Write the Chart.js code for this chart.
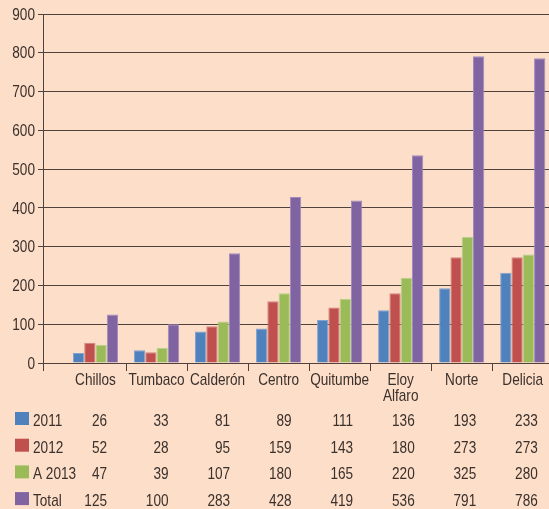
<!DOCTYPE html>
<html>
<head>
<meta charset="utf-8">
<script src="https://cdn.jsdelivr.net/npm/chart.js@4.4.1/dist/chart.umd.min.js"></script>
<style>
  html, body { margin: 0; padding: 0; background: #fddec8; overflow: hidden; }
  #wrap { width: 549px; height: 509px; }
</style>
</head>
<body>
<div id="wrap"><canvas id="chart" width="549" height="509"></canvas></div>
<script>
// datos
const categories = ['Chillos', 'Tumbaco', 'Calderón', 'Centro', 'Quitumbe', ['Eloy', 'Alfaro'], 'Norte', 'Delicia'];
const seriesNames = ['2011', '2012', 'A 2013', 'Total'];
const v2011 = [26, 33, 81, 89, 111, 136, 193, 233];
const v2012 = [52, 28, 95, 159, 143, 180, 273, 273];
const vA2013 = [47, 39, 107, 180, 165, 220, 325, 280];
const vTotal = [125, 100, 283, 428, 419, 536, 791, 786];
const yTicks = [0, 100, 200, 300, 400, 500, 600, 700, 800, 900];

const colors = ['#4f81bd', '#c0504d', '#9bbb59', '#8064a2'];
const borders = ['#7fa3d2', '#d58482', '#b7d08a', '#9f8bbf'];
const allValues = [v2011, v2012, vA2013, vTotal];

// letra tipo "Helvetica condensed": Liberation Sans comprimida en horizontal
const FONT = '17px "Liberation Sans", Arial, sans-serif';
const SX = 0.8;
const textColor = '#3a302c';
const lineColor = '#4f423c';

// el eje x empieza un poco antes de la primera categoria (hueco a la izquierda)
const xMin = -0.86, xMax = 7.43;

const datasets = allValues.map((vals, k) => ({
  label: seriesNames[k],
  data: vals.map((v, i) => ({ x: i, y: v })),
  backgroundColor: colors[k],
  borderColor: borders[k],
  borderWidth: 1,
  categoryPercentage: 0.74,
  barPercentage: 1
}));

function narrowText(ctx, txt, x, y, align) {
  ctx.save();
  ctx.translate(x, y);
  ctx.scale(SX, 1);
  ctx.textAlign = align;
  ctx.fillText(txt, 0, 0);
  ctx.restore();
}

// etiquetas de ejes + tabla de datos
const labelsAndTable = {
  id: 'labelsAndTable',
  afterDraw(chart) {
    const ctx = chart.ctx;
    const xs = chart.scales.x, ys = chart.scales.y;
    ctx.save();
    ctx.font = FONT;
    ctx.fillStyle = textColor;

    // eje y
    ctx.textBaseline = 'middle';
    yTicks.forEach(v => narrowText(ctx, String(v), ys.right - 8, ys.getPixelForValue(v) + 1, 'right'));

    // categorias
    ctx.textBaseline = 'alphabetic';
    const base = xs.top + 22;
    categories.forEach((c, i) => {
      const lines = Array.isArray(c) ? c : [c];
      lines.forEach((t, j) => narrowText(ctx, t, xs.getPixelForValue(i), base + j * 16, 'center'));
    });

    // tabla
    const top = 426, gap = 26.7;
    allValues.forEach((vals, r) => {
      const y = top + r * gap;
      ctx.fillStyle = colors[r];
      ctx.fillRect(15, y - 14, 14, 13);
      ctx.fillStyle = textColor;
      narrowText(ctx, seriesNames[r], 33, y, 'left');
      vals.forEach((v, i) => {
        narrowText(ctx, String(v), xs.getPixelForValue(i + 0.5) - 19 + i * 0.5, y, 'right');
      });
    });
    ctx.restore();
  }
};

new Chart(document.getElementById('chart'), {
  type: 'bar',
  data: { datasets: datasets },
  plugins: [labelsAndTable],
  options: {
    responsive: false,
    devicePixelRatio: 1,
    animation: false,
    layout: { padding: { top: 14, left: 0, right: 0, bottom: 0 }, autoPadding: false },
    plugins: { legend: { display: false }, tooltip: { enabled: false } },
    scales: {
      y: {
        min: 0, max: 900,
        afterBuildTicks(s) { s.ticks = yTicks.map(v => ({ value: v })); },
        ticks: { display: false },
        grid: { color: lineColor, lineWidth: 1, tickLength: 5 },
        border: { color: lineColor, width: 1 },
        afterFit(s) { s.width = 43; }
      },
      x: {
        type: 'linear', position: 'bottom',
        min: xMin, max: xMax,
        offset: false,
        afterBuildTicks(s) {
          const t = [xMin];
          for (let i = 0; i < categories.length - 1; i++) t.push(i + 0.5);
          s.ticks = t.map(v => ({ value: v }));
        },
        ticks: { display: false },
        grid: { drawOnChartArea: false, offset: false, tickLength: 8, color: lineColor },
        border: { color: lineColor, width: 1 },
        afterFit(s) { s.height = 146; }
      }
    }
  }
});
</script>
</body>
</html>
